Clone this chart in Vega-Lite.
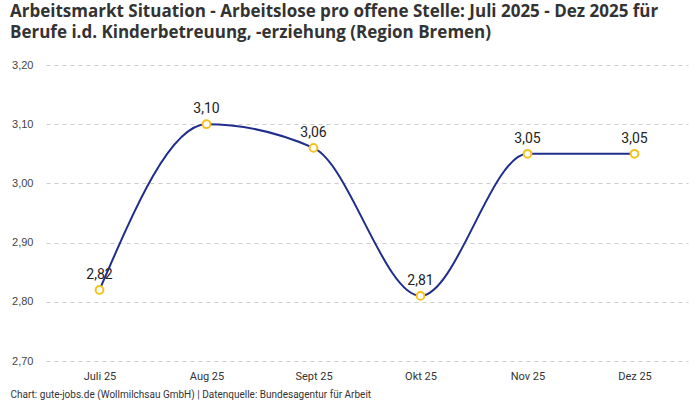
{
  "$schema": "https://vega.github.io/schema/vega-lite/v6.json",
  "width": 642,
  "height": 296,
  "autosize": {"type": "none"},
  "padding": {"left": 46, "top": 65, "right": 12, "bottom": 39},
  "config": {
    "locale": {"number": {"decimal": ",", "thousands": ".", "grouping": [3], "currency": ["", " €"]}},
    "view": {"stroke": null},
    "background": "white"
  },
  "title": {
    "text": ["Arbeitsmarkt Situation - Arbeitslose pro offene Stelle: Juli 2025 - Dez 2025 für", "Berufe i.d. Kinderbetreuung, -erziehung (Region Bremen)"],
    "anchor": "start",
    "frame": "group",
    "dx": -36,
    "offset": 17,
    "font": "Open Sans, sans-serif",
    "fontSize": 17,
    "fontWeight": "bold",
    "color": "#333333",
    "lineHeight": 21
  },
  "data": {
    "values": [
      {"monat": "Juli 25", "wert": 2.82},
      {"monat": "Aug 25", "wert": 3.10},
      {"monat": "Sept 25", "wert": 3.06},
      {"monat": "Okt 25", "wert": 2.81},
      {"monat": "Nov 25", "wert": 3.05},
      {"monat": "Dez 25", "wert": 3.05}
    ]
  },
  "encoding": {
    "x": {
      "field": "monat",
      "type": "ordinal",
      "sort": null,
      "scale": {"type": "point", "padding": 0.5},
      "axis": {
        "labelAngle": 0,
        "domain": false,
        "ticks": false,
        "labelPadding": 9,
        "labelFontSize": 11,
        "labelColor": "#333333",
        "labelFont": "Roboto, sans-serif",
        "title": "Chart: gute-jobs.de (Wollmilchsau GmbH) | Datenquelle: Bundesagentur für Arbeit",
        "titleAnchor": "start",
        "titleAlign": "left",
        "titleX": -36,
        "titleY": 28,
        "titleFontSize": 10,
        "titleFontWeight": "normal",
        "titleColor": "#333333",
        "titleFont": "Roboto, sans-serif"
      }
    },
    "y": {
      "field": "wert",
      "type": "quantitative",
      "scale": {"domain": [2.7, 3.2], "nice": false, "zero": false},
      "axis": {
        "values": [2.7, 2.8, 2.9, 3.0, 3.1, 3.2],
        "format": ".2f",
        "domain": false,
        "ticks": false,
        "labelPadding": 13,
        "labelFontSize": 11,
        "labelColor": "#444444",
        "labelFont": "Liberation Sans, Arial, sans-serif",
        "gridColor": "#cccccc",
        "gridDash": [4, 4],
        "title": null
      }
    }
  },
  "layer": [
    {
      "mark": {"type": "line", "interpolate": "monotone", "color": "#1f2d8c", "strokeWidth": 2}
    },
    {
      "mark": {"type": "point", "shape": "circle", "filled": true, "fill": "white", "stroke": "#f5c21b", "strokeWidth": 2, "size": 60, "opacity": 1}
    },
    {
      "mark": {"type": "text", "dy": -15, "fontSize": 14, "fontWeight": "normal", "color": "#222222", "font": "Roboto, sans-serif"},
      "encoding": {"text": {"field": "wert", "type": "quantitative", "format": ".2f"}}
    }
  ]
}
